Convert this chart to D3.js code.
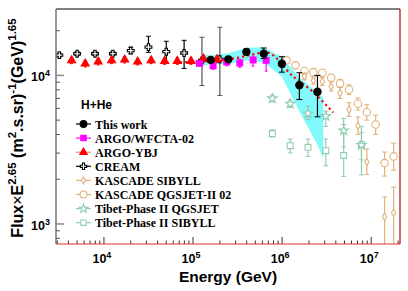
<!DOCTYPE html>
<html>
<head>
<meta charset="utf-8">
<script src="https://cdn.jsdelivr.net/npm/d3@7"></script>
<style>
body { margin: 0; background: #fff; }
svg { display: block; }
</style>
</head>
<body>
<svg width="408" height="291"></svg>
<script>
// [E (GeV), flux*E^2.65, low, high]
var thisWork = [
    [158000, 12730, 12350, 13110],
    [249000, 12830, 12450, 13220],
    [397000, 14410, 13800, 15050],
    [622000, 14020, 13000, 15300],
    [993000, 11990, 10520, 13370],
    [1560000, 8600, 6880, 10430],
    [2490000, 7760, 5260, 10000]
];
// systematic band: [E, low, high]
var thisWorkBand = [
    [126000, 11590, 13760],
    [158000, 11870, 13650],
    [249000, 11870, 14090],
    [397000, 12630, 15360],
    [622000, 12240, 15460],
    [993000, 9840, 13240],
    [1563000, 5710, 9690],
    [2490000, 3420, 7680],
    [2890000, 2750, 7100]
];
var argoWfcta = [
    [118000, 12050, 11600, 12500],
    [168000, 11590, 11000, 12200],
    [239000, 12300, 11600, 13000],
    [335000, 12140, 11330, 12830],
    [472000, 12690, 11560, 13500],
    [661000, 12630, 10690, 13500]
];
var argoYbj = [
    [4340, 12620, 12000, 13250],
    [6170, 12000, 11400, 12600],
    [8630, 12380, 11760, 13000],
    [12200, 12620, 12000, 13250],
    [17100, 12770, 12130, 13400],
    [23900, 12380, 11760, 13000],
    [33900, 12620, 12000, 13250],
    [48000, 12490, 11870, 13110],
    [66600, 12490, 11870, 13110],
    [95000, 12490, 11870, 13110],
    [131000, 12970, 12320, 13620],
    [186000, 12830, 12190, 13470]
];
// ARGO-YBJ fit (dotted)
var argoFit = [
    [71400, 12240], [120000, 12430], [201000, 12630], [337000, 13240],
    [497000, 13970], [661000, 14300], [1330000, 9840], [2070000, 8030], [3740000, 5620]
];
var cream = [
    [3160, 13700, 13300, 14100],
    [5010, 14000, 13600, 14400],
    [7940, 14000, 13600, 14400],
    [12600, 14000, 13600, 14400],
    [20000, 14700, 13980, 15460],
    [31600, 15500, 14290, 18350],
    [50100, 14450, 12240, 16980],
    [79400, 14150, 11150, 17230],
    [126000, 12630, 8550, 18070],
    [200000, 12830, 7330, 21100]
];
var kascadeSibyll = [
    [1780000, 9850, 9350, 10350],
    [2240000, 9250, 8750, 9750],
    [2820000, 9110, 8550, 9700],
    [3550000, 8430, 7850, 9050],
    [4470000, 7620, 7000, 8300],
    [5620000, 5890, 5300, 6550],
    [7080000, 4590, 4000, 5250],
    [8910000, 2620, 2150, 3200],
    [14100000, 1120, 500, 1520],
    [17800000, 1190, 500, 1770]
];
var kascadeQgsjet = [
    [1120000, 12630, 12250, 13000],
    [1410000, 11690, 11300, 12100],
    [1780000, 10700, 10300, 11100],
    [2240000, 10520, 10100, 10950],
    [2820000, 10420, 9950, 10900],
    [3550000, 9650, 9150, 10150],
    [4470000, 8840, 8300, 9400],
    [5620000, 8040, 7450, 8650],
    [7080000, 6440, 5850, 7050],
    [8910000, 5650, 5000, 6350],
    [11200000, 4670, 4000, 5400],
    [14100000, 2570, 2100, 3050],
    [17800000, 2850, 2300, 3500]
];
var tibetQgsjet = [
    [776000, 7000, 6650, 7350],
    [1230000, 6440, 6100, 6800],
    [1950000, 5540, 5050, 6210],
    [3090000, 5320, 4540, 5740],
    [4900000, 4250, 3310, 5120],
    [7760000, 3400, 2700, 4120]
];
var tibetSibyll = [
    [776000, 4060, 3850, 4300],
    [1230000, 3365, 3010, 3730],
    [1950000, 3280, 2840, 3730],
    [3090000, 3115, 2466, 3730],
    [4900000, 2890, 2090, 4670],
    [7760000, 3420, 2140, 4520]
];
var xMajor = [1e4, 1e5, 1e6, 1e7];
var yMajor = [1e3, 1e4];

var svg = d3.select("svg");
var pLeft = 56, pRight = 400, pTop = 9, pBottom = 244;
var x = d3.scaleLog().domain([2900, 2.1e7]).range([pLeft, pRight]);
var y = d3.scaleLog().domain([733, 2.8e4]).range([pBottom, pTop]);

svg.append("defs").append("clipPath").attr("id", "plot")
    .append("rect").attr("x", pLeft).attr("y", pTop)
    .attr("width", pRight - pLeft).attr("height", pBottom - pTop);

var plot = svg.append("g").attr("clip-path", "url(#plot)");

// band
plot.append("path")
    .datum(thisWorkBand)
    .attr("fill", "#80fafc")
    .attr("d", d3.area()
        .x(function(d) { return x(d[0]); })
        .y0(function(d) { return y(d[1]); })
        .y1(function(d) { return y(d[2]); }));

var series = [
    { name: "Tibet-Phase II SIBYLL", data: tibetSibyll, color: "#8fcdb0", symbol: d3.symbolSquare, size: 34, fill: false, cap: 2.5 },
    { name: "Tibet-Phase II QGSJET", data: tibetQgsjet, color: "#8fcdb0", symbol: d3.symbolStar, size: 28, fill: false, cap: 2.5 },
    { name: "KASCADE QGSJET-II 02", data: kascadeQgsjet, color: "#e2b27a", symbol: d3.symbolCircle, size: 44, fill: false, cap: 2.5 },
    { name: "KASCADE SIBYLL", data: kascadeSibyll, color: "#e2b27a", symbol: d3.symbolDiamond, size: 16, fill: false, cap: 2.5 },
    { name: "CREAM", data: cream, color: "#000", symbol: d3.symbolCross, size: 26, fill: false, cap: 2.5 },
    { name: "ARGO-YBJ", data: argoYbj, color: "#ff0000", symbol: d3.symbolTriangle, size: 28, fill: true, cap: 1.5 },
    { name: "ARGO/WFCTA-02", data: argoWfcta, color: "#ff00ff", symbol: d3.symbolSquare, size: 34, fill: true, cap: 1.5 },
    { name: "This work", data: thisWork, color: "#000", symbol: d3.symbolCircle, size: 42, fill: true, cap: 3 }
];

function barColor(s, d) {
    return s.name === "CREAM" && d[0] > 1e5 ? "#555" : s.color;
}

function drawSeries(s) {
    var g = plot.append("g");
    g.selectAll("line.err").data(s.data).enter().append("line")
        .attr("x1", function(d) { return x(d[0]); })
        .attr("x2", function(d) { return x(d[0]); })
        .attr("y1", function(d) { return y(d[2]); })
        .attr("y2", function(d) { return y(d[3]); })
        .attr("stroke", function(d) { return barColor(s, d); })
        .attr("stroke-width", 1.2);
    [2, 3].forEach(function(k) {
        g.selectAll("line.cap" + k).data(s.data).enter().append("line")
            .attr("x1", function(d) { return x(d[0]) - s.cap; })
            .attr("x2", function(d) { return x(d[0]) + s.cap; })
            .attr("y1", function(d) { return y(d[k]); })
            .attr("y2", function(d) { return y(d[k]); })
            .attr("stroke", function(d) { return barColor(s, d); })
            .attr("stroke-width", 1);
    });
    g.selectAll("path").data(s.data).enter().append("path")
        .attr("transform", function(d) { return "translate(" + x(d[0]) + "," + y(d[1]) + ")"; })
        .attr("d", d3.symbol().type(s.symbol).size(s.size))
        .attr("fill", s.fill ? s.color : "#fff")
        .attr("stroke", s.color)
        .attr("stroke-width", 1.1);
}

series.slice(0, 6).forEach(drawSeries);

// ARGO-YBJ fit
plot.append("path")
    .datum(argoFit)
    .attr("fill", "none")
    .attr("stroke", "#ff0000")
    .attr("stroke-width", 2.2)
    .attr("stroke-dasharray", "2.2,3")
    .attr("d", d3.line()
        .x(function(d) { return x(d[0]); })
        .y(function(d) { return y(d[1]); })
        .curve(d3.curveMonotoneX));

series.slice(6).forEach(drawSeries);

// frame
svg.append("line").attr("x1", pLeft).attr("x2", pRight).attr("y1", pTop).attr("y2", pTop)
    .attr("stroke", "#555").attr("stroke-width", 1.3);
svg.append("line").attr("x1", pLeft).attr("x2", pLeft).attr("y1", pTop).attr("y2", pBottom)
    .attr("stroke", "#777").attr("stroke-width", 1.5);

// x ticks
var xMinor = [];
[1e3, 1e4, 1e5, 1e6, 1e7].forEach(function(dec) {
    for (var k = 2; k <= 9; k++) {
        var v = dec * k;
        if (v > x.domain()[0] && v < x.domain()[1]) xMinor.push(v);
    }
});
svg.append("g").selectAll("line").data(xMinor).enter().append("line")
    .attr("x1", function(d) { return x(d); }).attr("x2", function(d) { return x(d); })
    .attr("y1", pBottom).attr("y2", pBottom - 3.5)
    .attr("stroke", "#333").attr("stroke-width", 1);
svg.append("g").selectAll("line").data(xMajor).enter().append("line")
    .attr("x1", function(d) { return x(d); }).attr("x2", function(d) { return x(d); })
    .attr("y1", pBottom).attr("y2", pBottom - 7)
    .attr("stroke", "#777").attr("stroke-width", 1.5);

// y ticks
var yMinor = [];
[100, 1e3, 1e4].forEach(function(dec) {
    for (var k = 2; k <= 9; k++) {
        var v = dec * k;
        if (v > y.domain()[0] && v < y.domain()[1]) yMinor.push(v);
    }
});
svg.append("g").selectAll("line").data(yMinor).enter().append("line")
    .attr("x1", pLeft).attr("x2", pLeft + 4)
    .attr("y1", function(d) { return y(d); }).attr("y2", function(d) { return y(d); })
    .attr("stroke", "#555").attr("stroke-width", 1);
svg.append("g").selectAll("line").data(yMajor).enter().append("line")
    .attr("x1", pLeft).attr("x2", pLeft + 8)
    .attr("y1", function(d) { return y(d); }).attr("y2", function(d) { return y(d); })
    .attr("stroke", "#888").attr("stroke-width", 1.5);

// red lines bottom and right
svg.append("line").attr("x1", pLeft).attr("x2", pRight).attr("y1", pBottom).attr("y2", pBottom)
    .attr("stroke", "#e03030").attr("stroke-width", 1.2);
svg.append("line").attr("x1", pRight).attr("x2", pRight).attr("y1", pTop).attr("y2", pBottom)
    .attr("stroke", "#c00000").attr("stroke-width", 1.2);

// tick labels
function powLabel(g, v) {
    var e = Math.round(Math.log10(v));
    g.append("tspan").text("10");
    g.append("tspan").attr("dy", -5).attr("font-size", 9).text(e);
}
svg.append("g").selectAll("text").data(xMajor).enter().append("text")
    .attr("x", function(d) { return x(d) - 2; })
    .attr("y", 263)
    .attr("text-anchor", "middle")
    .attr("font-family", "Liberation Sans, Arial, sans-serif")
    .attr("font-weight", "bold").attr("font-size", 12.5)
    .each(function(d) { powLabel(d3.select(this), d); });
svg.append("g").selectAll("text").data(yMajor).enter().append("text")
    .attr("x", 50)
    .attr("y", function(d) { return y(d) + 6; })
    .attr("text-anchor", "end")
    .attr("font-family", "Liberation Sans, Arial, sans-serif")
    .attr("font-weight", "bold").attr("font-size", 12.5)
    .each(function(d) { powLabel(d3.select(this), d); });

// axis titles
svg.append("text")
    .attr("x", 228).attr("y", 282)
    .attr("text-anchor", "middle")
    .attr("font-family", "Liberation Sans, Arial, sans-serif")
    .attr("font-weight", "bold").attr("font-size", 15.5)
    .text("Energy (GeV)");

var yt = svg.append("text")
    .attr("transform", "translate(23,128) rotate(-90)")
    .attr("text-anchor", "middle")
    .attr("font-family", "Liberation Sans, Arial, sans-serif")
    .attr("font-weight", "bold").attr("font-size", 16);
yt.append("tspan").text("Flux");
yt.append("tspan").attr("font-weight", "normal").text("\u00d7");
yt.append("tspan").text("E");
yt.append("tspan").attr("dy", -7).attr("font-size", 11.5).text("2.65");
yt.append("tspan").attr("dy", 7).text(" (m");
yt.append("tspan").attr("dy", -7).attr("font-size", 11.5).text("2");
yt.append("tspan").attr("dy", 7).text(".s.sr)");
yt.append("tspan").attr("dy", -7).attr("font-size", 11.5).text("-1");
yt.append("tspan").attr("dy", 7).text("(GeV)");
yt.append("tspan").attr("dy", -7).attr("font-size", 11.5).text("1.65");

// legend
var legend = svg.append("g");
legend.append("text")
    .attr("x", 81).attr("y", 109)
    .attr("font-family", "Liberation Sans, Arial, sans-serif")
    .attr("font-weight", "bold").attr("font-size", 12)
    .text("H+He");
var legendOrder = series.slice().reverse();
legendOrder.forEach(function(s, i) {
    var ly = 124 + i * 14.1;
    var lineColor = s.name === "ARGO-YBJ" ? "#ff8080" : s.color;
    legend.append("line")
        .attr("x1", 76).attr("x2", 91).attr("y1", ly).attr("y2", ly)
        .attr("stroke", lineColor).attr("stroke-width", 1.2);
    legend.append("path")
        .attr("transform", "translate(83.5," + ly + ")")
        .attr("d", d3.symbol().type(s.symbol).size(s.size * 0.85))
        .attr("fill", s.fill ? s.color : "#fff")
        .attr("stroke", s.color).attr("stroke-width", 1.1);
    legend.append("text")
        .attr("x", 95).attr("y", ly + 4.5)
        .attr("font-family", "Liberation Serif, Times New Roman, serif")
        .attr("font-weight", "bold").attr("font-size", 12)
        .text(s.name);
});
</script>
</body>
</html>
